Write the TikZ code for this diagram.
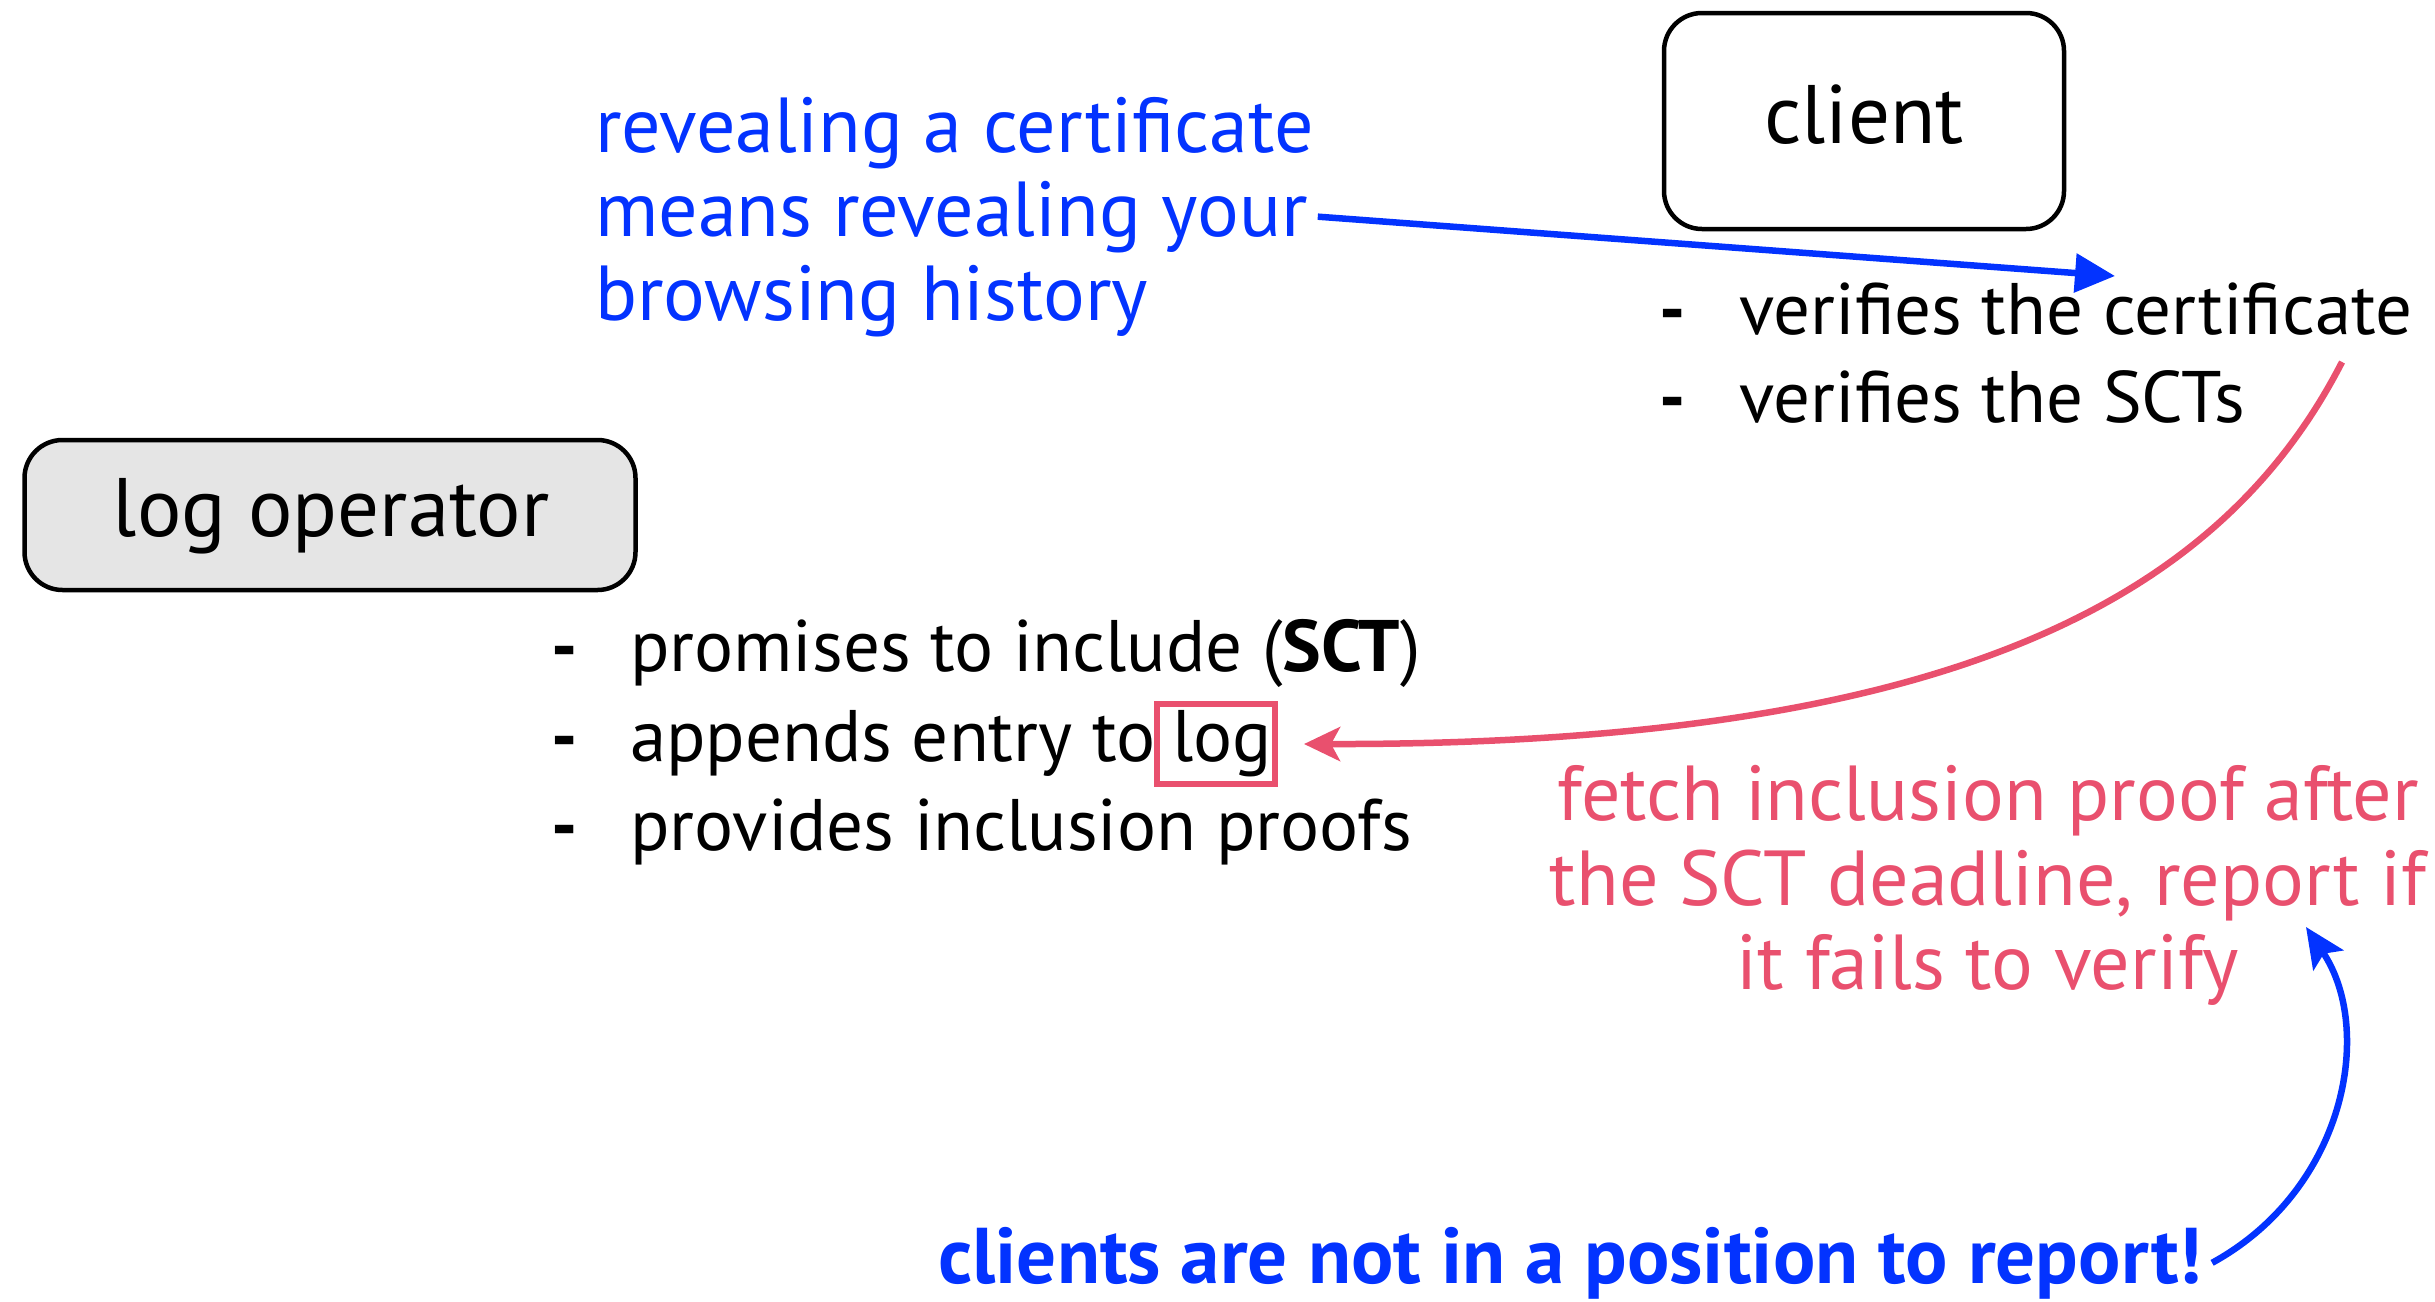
\documentclass[tikz,border=0pt]{standalone}
\usepackage{fontspec}
\setmainfont{PT Sans}
\usetikzlibrary{arrows.meta}
\definecolor{noteblue}{RGB}{3,51,255}
\definecolor{notered}{RGB}{233,80,110}
\definecolor{boxgray}{RGB}{229,229,229}
\begin{document}
\begin{tikzpicture}[x=1pt,y=-1pt,
  actor/.style={draw=black, line width=4.5pt, rounded corners=38pt, inner sep=0pt},
  txt/.style={inner sep=0pt, anchor=base west, font=\fontsize{73}{88}\selectfont},
  ctxt/.style={inner sep=0pt, anchor=base, font=\fontsize{78}{90}\selectfont},
  dashmark/.style={inner sep=0pt, anchor=base west, font=\fontsize{73}{88}\selectfont\bfseries},
  bluenote/.style={inner sep=0pt, anchor=base west, font=\fontsize{78}{90}\selectfont, text=noteblue},
  rednote/.style={ctxt, text=notered},
  label/.style={inner sep=0pt, anchor=base, font=\fontsize{83}{96}\selectfont},
]
\useasboundingbox (0,0) rectangle (2435,1301);

% actors
\node[actor, minimum width=400pt, minimum height=216pt] (client) at (1864,121) {};
\node[label] (clientlabel) at (1864,143) {client};
\node[actor, fill=boxgray, minimum width=611pt, minimum height=150pt] (logop) at (330,515) {};
\node[label] (logoplabel) at (331,536) {log operator};

% client duties
\node[dashmark] (cd1) at (1659,334) {-};
\node[txt] (c1) at (1739,334) {verifies the certificate};
\node[dashmark] (cd2) at (1659,422) {-};
\node[txt] (c2) at (1739,422) {verifies the SCTs};

% log operator duties
\node[dashmark] (ld1) at (551,671) {-};
\node[txt] (l1) at (630,671) {promises to include (\textbf{SCT})};
\node[dashmark] (ld2) at (551,761) {-};
\node[txt] (l2) at (630,761) {appends entry to};
\node[txt] (logword) at (1172,761) {log};
\node[draw=notered, line width=6pt, minimum width=118pt, minimum height=80pt, inner sep=0pt] (logbox) at (1216,744) {};
\node[dashmark] (ld3) at (551,850) {-};
\node[txt] (l3) at (630,850) {provides inclusion proofs};

% privacy note
\node[bluenote] (rev1) at (595,152) {revealing a certificate};
\node[bluenote] (rev2) at (595,236) {means revealing your};
\node[bluenote] (rev3) at (595,320) {browsing history};

% audit note
\node[rednote] (aud1) at (1988,820) {fetch inclusion proof after};
\node[rednote] (aud2) at (1988,905) {the SCT deadline, report if};
\node[rednote] (aud3) at (1988,989) {it fails to verify};

% bottom remark
\node[inner sep=0pt, anchor=base west, text=noteblue, font=\fontsize{79}{90}\selectfont\bfseries] (remark) at (938,1283) {clients are not in a position to report!};

% connectors
\coordinate (certtip) at (2115,276);
\coordinate (auditstart) at (2342,362);
\coordinate (reporttip) at (2306,927);

\draw[noteblue, line width=6.5pt, -{Triangle[length=40pt,width=38pt]}]
  ([xshift=10pt]rev2.east) -- (certtip);
\draw[notered, line width=6.5pt, -{Stealth[length=36pt,width=34pt,inset=9pt]}]
  (auditstart) .. controls (2220,600) and (1950,745) .. ([xshift=26pt]logbox.east);
\draw[noteblue, line width=6.5pt, -{Stealth[length=40pt,width=36pt,inset=8pt]}]
  ([xshift=10pt]remark.east) .. controls (2345,1190) and (2375,1030) .. (reporttip);
\end{tikzpicture}
\end{document}
